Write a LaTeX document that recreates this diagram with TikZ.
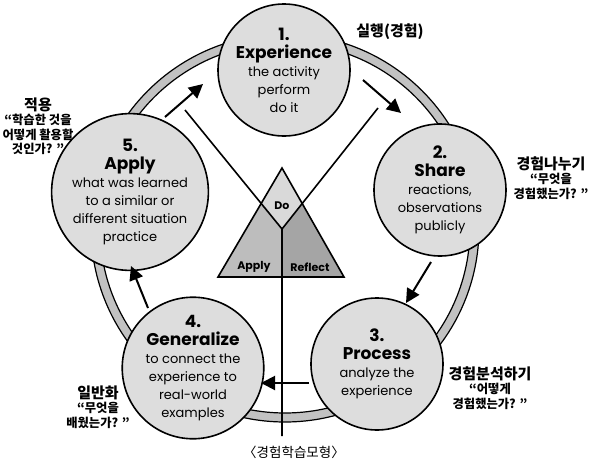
\documentclass[tikz,border=0pt]{standalone}
\usepackage{fontspec}
\setmainfont{Poppins}
\newfontfamily\krfont{Noto Sans CJK KR}
\usetikzlibrary{arrows.meta}
\definecolor{ringgray}{HTML}{C2C2C2}
\definecolor{stagefill}{HTML}{DDDDDD}
\definecolor{dofill}{HTML}{D9D9D9}
\definecolor{applyfill}{HTML}{BDBDBD}
\definecolor{reflectfill}{HTML}{A5A5A5}
\newcommand{\sttl}[1]{{\fontsize{17}{19}\selectfont\bfseries #1}}
\newcommand{\nhead}[1]{{\fontsize{15}{16}\selectfont #1}}
\tikzstyle{stage} = [
  circle,
  minimum size=132pt,
  inner sep=0,
  align=center,
  draw=black,
  line width=1.6pt,
  fill=stagefill,
  font=\fontsize{13}{18}\selectfont
]
\tikzstyle{note} = [
  align=center,
  inner sep=0,
  font=\krfont\bfseries\fontsize{12.3}{14.5}\selectfont
]
\tikzstyle{trilabel} = [
  inner sep=0,
  font=\fontsize{11}{13}\selectfont\bfseries
]
\tikzstyle{arrow} = [
  line width=2pt,
  -{Triangle[length=14pt,width=14pt]}
]

\begin{document}
\begin{tikzpicture}[x=1pt,y=-1pt]
      \useasboundingbox (0,0) rectangle (590,463);

      \fill [ringgray, even odd rule] (285,228) circle (194) (285,228) circle (185);
      \draw [line width=1.2pt] (285,228) circle (194) (285,228) circle (185);

      \coordinate (tritop) at (282,168);
      \coordinate (trileft) at (218,277);
      \coordinate (triright) at (344,277);
      \coordinate (tribase) at (282,277);
      \coordinate (vtx) at (282,229);
      \coordinate (vleft) at (185,110);
      \coordinate (vright) at (378,108);
      \coordinate (stem) at (282,436);
      \coordinate (xl) at (intersection of vleft--vtx and tritop--trileft);
      \coordinate (xr) at (intersection of vright--vtx and tritop--triright);

      \fill [dofill] (tritop) -- (xl) -- (vtx) -- (xr) -- cycle;
      \fill [applyfill] (xl) -- (vtx) -- (tribase) -- (trileft) -- cycle;
      \fill [reflectfill] (xr) -- (vtx) -- (tribase) -- (triright) -- cycle;
      \draw [line width=1.6pt] (tritop) -- (trileft) -- (triright) -- cycle;
      \draw [line width=1.6pt] (vleft) -- (vtx) -- (vright) (vtx) -- (stem);

      \node [trilabel] (do) at (282,206) {Do};
      \node [trilabel] (apply) at (254,267) {Apply};
      \node [trilabel] (reflect) at (310,267) {Reflect};

      \node [stage] (exp) at (284,70) {\sttl{1.}\\\sttl{Experience}\\the activity\\perform\\do it};
      \node [stage] (shr) at (440,190) {\sttl{2.}\\\sttl{Share}\\reactions,\\observations\\publicly};
      \node [stage] (prc) at (377,364) {\sttl{3.}\\\sttl{Process}\\analyze the\\experience};
      \node [stage] (gen) at (193,368) {\sttl{4.}\\\sttl{Generalize}\\to connect the\\experience to\\real-world\\examples};
      \node [stage] (app) at (130,192) {\sttl{5.}\\\sttl{Apply}\\what was learned\\to a similar or\\different situation\\practice};

      \coordinate (a1s) at (363,80);
      \coordinate (a1e) at (401,113);
      \coordinate (a2s) at (431,262);
      \coordinate (a2e) at (406,303);
      \coordinate (a3s) at (309,383);
      \coordinate (a3e) at (261,383);
      \coordinate (a4s) at (148,308);
      \coordinate (a4e) at (131,266);
      \coordinate (a5s) at (165,117);
      \coordinate (a5e) at (203,84);

      \draw [arrow] (a1s) -- (a1e);
      \draw [arrow] (a2s) -- (a2e);
      \draw [arrow] (a3s) -- (a3e);
      \draw [arrow] (a4s) -- (a4e);
      \draw [arrow] (a5s) -- (a5e);

      \node [note] (n1) at (390,32) {\nhead{실행(경험)}};
      \node [note] (n2) at (551,178) {\nhead{경험나누기}\\“무엇을\\경험했는가? ”};
      \node [note] (n3) at (490,388) {\nhead{경험분석하기}\\“어떻게\\경험했는가? ”};
      \node [note] (n4) at (98,407) {\nhead{일반화}\\“무엇을\\배웠는가? ”};
      \node [note] (n5) at (38,126) {\nhead{적용}\\“학습한 것을\\어떻게 활용할\\것인가? ”};
      \node [note, font=\krfont\fontsize{13.5}{15}\selectfont] (caption) at (294,452) {〈경험학습모형〉};

    \end{tikzpicture}
\end{document}
